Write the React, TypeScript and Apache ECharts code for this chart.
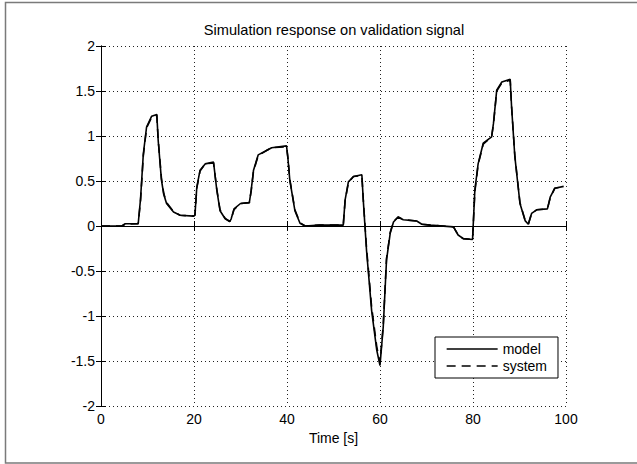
import React, { useEffect, useRef } from "react";
import * as echarts from "echarts";

const timeS = [0, 4.5, 5.2, 8.0, 8.5, 9.1, 9.8, 10.9, 12.0, 12.3, 13.0, 13.5, 14.1, 15.6, 17, 19.9, 20.2, 20.6, 21.3, 22.4, 24.2, 24.9, 25.6, 26.7, 27.7, 28.0, 28.6, 30, 31.9, 32.3, 32.8, 33.8, 35.3, 36.7, 39.9, 40.2, 40.6, 41.7, 42.8, 43.9, 47, 50.6, 52.1, 52.5, 53.2, 54.3, 56.1, 56.4, 57.1, 58.2, 59.3, 60.0, 60.7, 61.4, 62.2, 62.9, 63.9, 65, 67.9, 69, 70.8, 75.8, 76.8, 77.9, 79.9, 80.4, 81.1, 82.2, 84.0, 84.4, 85.1, 86.2, 88.0, 88.3, 89.0, 90.1, 91.2, 91.9, 92.6, 93.7, 96.0, 96.6, 97.6, 99.5];

const modelValues = [0, 0, 0.025, 0.025, 0.3, 0.8, 1.10, 1.22, 1.24, 0.95, 0.51, 0.35, 0.25, 0.155, 0.12, 0.11, 0.12, 0.43, 0.62, 0.69, 0.71, 0.40, 0.17, 0.08, 0.05, 0.08, 0.19, 0.25, 0.26, 0.40, 0.62, 0.79, 0.83, 0.87, 0.89, 0.75, 0.51, 0.17, 0.03, 0.0, 0.01, 0.01, 0.01, 0.29, 0.49, 0.55, 0.57, 0.29, -0.27, -0.94, -1.38, -1.55, -1.12, -0.38, -0.08, 0.045, 0.10, 0.07, 0.055, 0.02, 0.01, -0.01, -0.10, -0.14, -0.15, 0.40, 0.69, 0.92, 0.99, 1.14, 1.51, 1.60, 1.63, 1.32, 0.77, 0.25, 0.06, 0.02, 0.14, 0.18, 0.19, 0.32, 0.42, 0.44];

const systemValues = [0, 0, 0.02, 0.025, 0.28, 0.78, 1.09, 1.21, 1.23, 0.96, 0.53, 0.36, 0.26, 0.16, 0.12, 0.11, 0.12, 0.42, 0.61, 0.69, 0.70, 0.41, 0.18, 0.085, 0.05, 0.08, 0.18, 0.25, 0.26, 0.39, 0.61, 0.78, 0.83, 0.87, 0.88, 0.76, 0.52, 0.18, 0.035, 0.0, 0.01, 0.01, 0.01, 0.28, 0.48, 0.55, 0.56, 0.30, -0.24, -0.90, -1.34, -1.52, -1.10, -0.36, -0.07, 0.05, 0.10, 0.07, 0.055, 0.02, 0.01, -0.01, -0.10, -0.14, -0.15, 0.38, 0.68, 0.91, 0.99, 1.13, 1.50, 1.59, 1.62, 1.33, 0.78, 0.26, 0.065, 0.02, 0.14, 0.18, 0.19, 0.31, 0.42, 0.44];

const xTicks = { min: 0, max: 100, interval: 20 };
const yTicks = { min: -2, max: 2, interval: 0.5 };
const titleText = "Simulation response on validation signal";

const FONT = "'Liberation Sans', Arial, sans-serif";
const FS = 14;

export default function App() {
  const ref = useRef<HTMLDivElement>(null);
  useEffect(() => {
    if (!ref.current) return;
    const chart = echarts.init(ref.current, undefined, { renderer: "svg" });
    const modelData = timeS.map((t, i) => [t, modelValues[i]]);
    const systemData = timeS.map((t, i) => [t, systemValues[i]]);
    const axisLine = { lineStyle: { color: "#000", width: 1 } };
    const splitLine = { show: true, lineStyle: { color: "#222", type: [1, 3], width: 1 } };
    chart.setOption({
      animation: false,
      backgroundColor: "#fff",
      textStyle: { fontFamily: FONT },
      grid: { left: 101, top: 46, width: 465, height: 360, containLabel: false },
      legend: {
        data: ["model", "system"],
        orient: "vertical",
        left: 435,
        top: 337,
        padding: [5, 11, 5, 11],
        itemGap: 3,
        itemWidth: 51,
        itemHeight: 14,
        backgroundColor: "#fff",
        borderColor: "#000",
        borderWidth: 1,
        itemStyle: { opacity: 0 },
        lineStyle: { width: 1.3 },
        textStyle: { fontFamily: FONT, fontSize: FS, color: "#000" },
      },
      xAxis: [
        {
          type: "value",
          ...xTicks,
          name: "Time [s]",
          nameLocation: "middle",
          nameGap: 20,
          nameTextStyle: { fontFamily: FONT, fontSize: FS, color: "#000" },
          axisLine,
          axisTick: { show: true, inside: true, length: 5, lineStyle: { color: "#000" } },
          axisLabel: { fontFamily: FONT, fontSize: FS, color: "#000", margin: 6 },
          splitLine,
        },
        {
          type: "value",
          position: "top",
          ...xTicks,
          axisLine,
          axisTick: { show: true, inside: true, length: 5, lineStyle: { color: "#000" } },
          axisLabel: { show: false },
          splitLine: { show: false },
        },
      ],
      yAxis: [
        {
          type: "value",
          ...yTicks,
          axisLine: { show: true, ...axisLine },
          axisTick: { show: true, inside: true, length: 5, lineStyle: { color: "#000" } },
          axisLabel: { fontFamily: FONT, fontSize: FS, color: "#000", margin: 6 },
          splitLine,
        },
        {
          type: "value",
          position: "right",
          ...yTicks,
          axisLine: { show: true, ...axisLine },
          axisTick: { show: true, inside: true, length: 5, lineStyle: { color: "#000" } },
          axisLabel: { show: false },
          splitLine: { show: false },
        },
      ],
      graphic: [
        {
          type: "rect",
          shape: { x: 5.5, y: 2.5, width: 700, height: 460.5 },
          style: { fill: "none", stroke: "#7a7a7a", lineWidth: 1.5 },
          silent: true,
        },
        {
          type: "text",
          x: 334,
          y: 30,
          style: {
            text: titleText,
            fontFamily: FONT,
            fontSize: 14.6,
            fill: "#000",
            align: "center",
            verticalAlign: "middle",
          },
          silent: true,
        },
      ],
      series: [
        {
          name: "model",
          type: "line",
          data: modelData,
          symbol: "none",
          lineStyle: { color: "#000", width: 1.6 },
          itemStyle: { color: "#000" },
          z: 3,
        },
        {
          name: "system",
          type: "line",
          data: systemData,
          symbol: "none",
          lineStyle: { color: "#000", width: 1.6, type: [9, 6] },
          itemStyle: { color: "#000" },
          z: 2,
        },
      ],
    });
    return () => chart.dispose();
  }, []);
  return <div ref={ref} style={{ position: "absolute", left: 0, top: 0, width: 637, height: 464 }} />;
}
